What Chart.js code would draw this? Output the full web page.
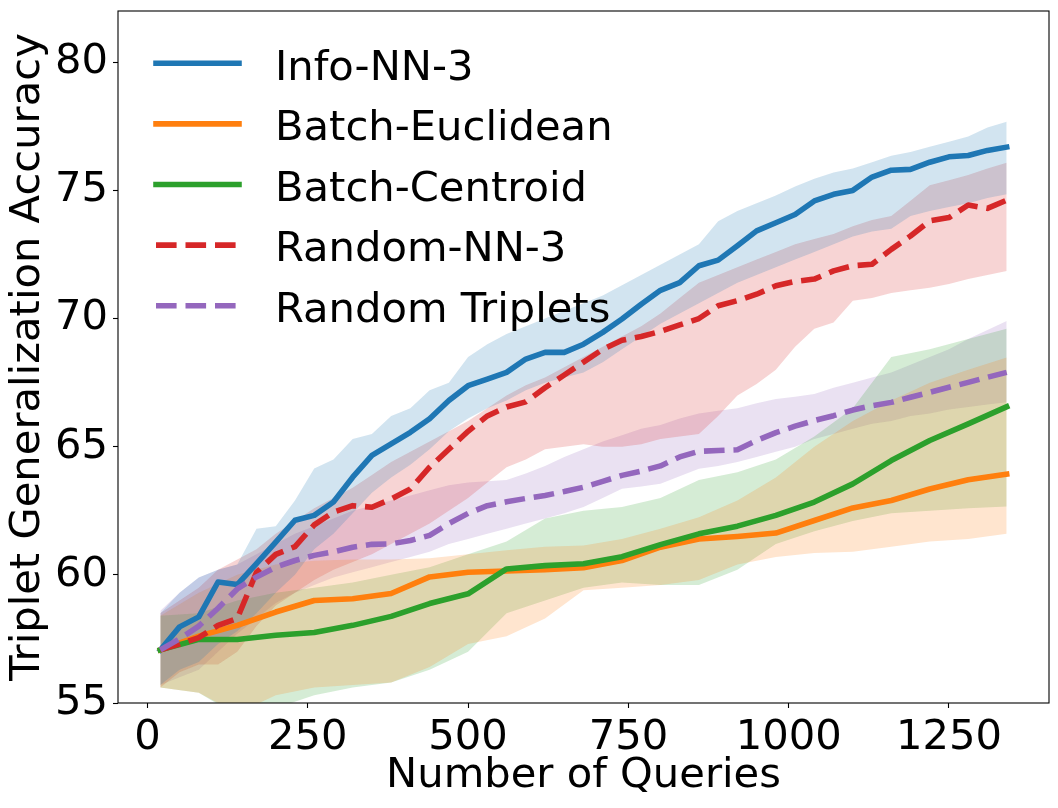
<!DOCTYPE html>
<html><head><meta charset="utf-8">
<script src="https://cdn.jsdelivr.net/npm/chart.js@4.4.1/dist/chart.umd.min.js"></script>
<style>html,body{margin:0;padding:0;background:#fff}canvas{display:block}</style>
</head><body>
<canvas id="c" width="1058" height="808"></canvas>
<script>
// ---- data ----
const xFine = [20,50,80,110,140,170,200,230,260,290,320,350,380,410,440,470,500,530,560,590,620,650,680,710,740,770,800,830,860,890,920,950,980,1010,1040,1070,1100,1130,1160,1190,1220,1250,1280,1310,1340];
const xCoarse = [20,80,140,200,260,320,380,440,500,560,620,680,740,800,860,920,980,1040,1100,1160,1220,1280,1340];

const infoMean  = [57.07,57.97,58.36,59.72,59.62,60.44,61.28,62.13,62.32,62.84,63.81,64.66,65.11,65.56,66.09,66.80,67.38,67.64,67.90,68.42,68.68,68.68,69.00,69.46,69.98,70.56,71.10,71.40,72.06,72.28,72.84,73.42,73.74,74.06,74.59,74.85,75.00,75.52,75.79,75.82,76.10,76.31,76.36,76.56,76.69];
const infoUpper = [58.5,59.3,59.9,60.2,60.4,61.8,61.9,62.9,64.15,64.5,65.3,65.5,66.2,66.5,67.2,67.5,68.5,69.0,69.4,69.7,70.0,70.3,70.6,70.9,71.3,71.7,72.1,72.5,72.9,73.8,74.2,74.5,74.8,75.15,75.45,75.7,75.85,76.1,76.35,76.5,76.7,76.9,77.1,77.45,77.68];
const infoLower = [55.7,56.3,56.6,57.3,57.8,58.5,59.3,60.0,61.0,61.6,62.4,63.2,63.8,64.3,64.9,65.6,66.1,66.5,66.8,67.2,67.5,67.7,67.9,68.3,68.8,69.3,69.8,70.2,70.6,71.0,71.4,71.7,72.0,72.3,72.6,72.9,73.2,73.4,73.5,74.0,74.2,74.35,74.5,74.7,74.85];

const eucMean  = [57.07,57.61,58.03,58.55,59.0,59.07,59.27,59.92,60.1,60.15,60.2,60.28,60.56,61.08,61.4,61.5,61.63,62.12,62.61,62.9,63.35,63.71,63.93];
const eucUpper = [58.4,59.3,60.0,60.4,60.55,60.6,60.6,60.65,60.8,60.96,61.1,61.15,61.4,61.8,62.25,62.9,63.8,65.0,66.0,66.8,67.5,68.0,68.48];
const eucLower = [55.6,55.4,54.6,55.3,55.6,55.7,55.8,56.4,57.3,57.6,58.3,59.4,59.5,59.6,59.8,60.4,60.7,60.85,60.9,61.1,61.3,61.4,61.6];

const cenMean  = [57.07,57.48,57.48,57.64,57.75,58.03,58.38,58.88,59.26,60.23,60.36,60.43,60.71,61.18,61.6,61.9,62.32,62.84,63.55,64.46,65.24,65.89,66.56];
const cenUpper = [58.4,58.5,59.0,59.3,59.5,59.7,60.0,60.3,60.8,61.3,62.2,62.5,62.65,63.0,63.7,64.0,64.5,65.4,66.5,68.5,68.8,69.2,69.6];
const cenLower = [55.6,55.4,54.5,54.8,55.3,55.6,55.8,56.3,57.0,58.5,59.0,59.5,59.7,59.6,59.6,60.2,61.2,61.7,62.1,62.4,62.5,62.6,62.67];

const rnnMean  = [57.07,57.3,57.55,58.03,58.3,60.1,60.8,61.1,61.95,62.45,62.7,62.64,62.96,63.35,64.2,64.9,65.6,66.2,66.55,66.75,67.3,67.8,68.3,68.8,69.15,69.3,69.5,69.75,70.0,70.5,70.7,70.95,71.28,71.45,71.54,71.86,72.06,72.12,72.7,73.22,73.81,73.94,74.43,74.3,74.62];
const rnnUpper = [58.5,59.0,59.5,60.2,60.6,61.0,61.6,62.1,62.6,63.0,63.4,63.9,64.4,64.8,65.2,65.6,66.0,66.5,67.0,67.4,67.7,68.1,68.5,68.9,69.3,69.7,70.2,70.8,71.4,71.7,72.0,72.3,72.6,72.9,73.1,73.3,73.6,73.85,74.0,74.6,75.2,75.4,75.6,75.85,76.08];
const rnnLower = [55.6,56.2,56.5,56.5,57.0,58.0,58.8,59.3,59.8,60.2,60.5,60.8,61.2,61.6,62.0,62.5,63.0,63.6,64.2,64.5,64.9,65.0,65.1,65.0,65.0,65.1,65.3,65.4,65.5,66.2,67.0,67.45,68.0,68.9,69.6,69.85,70.69,70.8,71.0,71.1,71.2,71.35,71.54,71.7,71.86];

const rtMean  = [57.07,57.5,58.0,58.7,59.45,59.92,60.3,60.56,60.76,60.9,61.08,61.19,61.21,61.34,61.54,62.0,62.4,62.7,62.85,62.98,63.1,63.25,63.42,63.65,63.88,64.05,64.25,64.6,64.82,64.85,64.88,65.24,65.55,65.8,66.02,66.21,66.43,66.6,66.73,66.93,67.12,67.32,67.51,67.71,67.9];
const rtUpper = [58.6,59.3,59.9,60.2,60.4,60.8,61.2,61.6,61.9,62.2,62.5,62.7,62.9,63.1,63.3,63.5,63.6,63.65,63.7,63.95,64.25,64.6,64.9,65.2,65.45,65.7,65.85,66.1,66.3,66.4,66.5,66.7,66.86,66.95,67.06,67.3,67.5,67.7,67.9,68.2,68.5,68.8,69.2,69.55,69.9];
const rtLower = [55.7,56.0,56.3,57.0,57.7,58.3,58.9,59.3,59.6,59.9,60.1,60.3,60.5,60.7,60.9,61.2,61.4,61.6,61.8,62.0,62.2,62.4,62.65,63.0,63.36,63.45,63.55,63.85,64.14,64.25,64.4,64.6,64.8,65.0,65.3,65.5,65.7,65.9,66.0,66.2,66.3,66.45,66.55,66.65,66.73];

const xTickValues = [0,250,500,750,1000,1250];
const yTickValues = [55,60,65,70,75,80];
const legendLabels = ['Info-NN-3','Batch-Euclidean','Batch-Centroid','Random-NN-3','Random Triplets'];

// ---- build ----
const series = [
  {label:legendLabels[0], color:'#1f77b4', rgb:'31,119,180', x:xFine,   mean:infoMean, hi:infoUpper, lo:infoLower, dash:false, z:4},
  {label:legendLabels[1], color:'#ff7f0e', rgb:'255,127,14', x:xCoarse, mean:eucMean,  hi:eucUpper,  lo:eucLower,  dash:false, z:3},
  {label:legendLabels[2], color:'#2ca02c', rgb:'44,160,44',  x:xCoarse, mean:cenMean,  hi:cenUpper,  lo:cenLower,  dash:false, z:2},
  {label:legendLabels[3], color:'#d62728', rgb:'214,39,40',  x:xFine,   mean:rnnMean,  hi:rnnUpper,  lo:rnnLower,  dash:true,  z:1},
  {label:legendLabels[4], color:'#9467bd', rgb:'148,103,189',x:xFine,   mean:rtMean,   hi:rtUpper,   lo:rtLower,   dash:true,  z:0}
];
const LW = 5.56, DASH = [20.6, 8.9];
const pts = (xs, ys) => xs.map((x, i) => ({x: x, y: ys[i]}));
const datasets = [];
series.forEach(s => {
  const up = datasets.length;
  datasets.push({data: pts(s.x, s.hi), borderWidth: 0, borderColor: 'rgba(0,0,0,0)', pointRadius: 0, fill: false, order: 10});
  datasets.push({data: pts(s.x, s.lo), borderWidth: 0, borderColor: 'rgba(0,0,0,0)', pointRadius: 0,
                 fill: {target: up}, backgroundColor: 'rgba(' + s.rgb + ',0.2)', order: 10});
});
series.forEach(s => {
  datasets.push({label: s.label, data: pts(s.x, s.mean), borderColor: s.color, borderWidth: LW,
    borderDash: s.dash ? DASH : [], borderCapStyle: s.dash ? 'butt' : 'square', borderJoinStyle: 'round',
    pointRadius: 0, fill: false, tension: 0, order: s.z});
});

const FONT = {family: 'DejaVu Sans', size: 41.67};

const framePlugin = {
  id: 'frameAndLegend',
  afterDraw(chart) {
    const ctx = chart.ctx, ca = chart.chartArea;
    ctx.save();
    ctx.strokeStyle = '#000'; ctx.lineWidth = 1.1; ctx.setLineDash([]);
    ctx.strokeRect(ca.left, ca.top, ca.right - ca.left, ca.bottom - ca.top);
    // legend
    const x0 = ca.left + 38, x1 = ca.left + 121, tx = ca.left + 157;
    const top = ca.top + 52.3, step = 60.6;
    ctx.font = FONT.size + 'px "DejaVu Sans"';
    ctx.textAlign = 'left'; ctx.textBaseline = 'alphabetic';
    series.forEach((s, i) => {
      const y = top + i * step;
      ctx.beginPath();
      ctx.strokeStyle = s.color; ctx.lineWidth = LW;
      ctx.setLineDash(s.dash ? DASH : []);
      ctx.lineCap = s.dash ? 'butt' : 'square';
      ctx.moveTo(x0, y); ctx.lineTo(x1, y); ctx.stroke();
      ctx.setLineDash([]);
      ctx.fillStyle = '#000';
      ctx.fillText(s.label, tx, y + 16.3);
    });
    ctx.restore();
  }
};

new Chart(document.getElementById('c'), {
  type: 'line',
  data: {datasets: datasets},
  options: {
    responsive: false, animation: false, devicePixelRatio: 1, events: [],
    layout: {padding: {top: 11, right: 9, left: 0, bottom: 0}},
    plugins: {legend: {display: false}, tooltip: {enabled: false}, filler: {drawTime: 'beforeDatasetsDraw'}},
    scales: {
      x: {
        type: 'linear', min: -46, max: 1406,
        afterBuildTicks: sc => { sc.ticks = xTickValues.map(v => ({value: v})); },
        afterFit: sc => { sc.height = 105; sc.paddingLeft = 0; sc.paddingRight = 0; },
        ticks: {font: FONT, color: '#000', padding: 5, maxRotation: 0, autoSkip: false, callback: v => String(v)},
        grid: {drawOnChartArea: false, drawTicks: true, tickLength: 5, tickWidth: 1.1, tickColor: '#000', color: '#000'},
        border: {display: false},
        title: {display: true, text: 'Number of Queries', font: FONT, color: '#000', padding: {top: 0, bottom: 7}}
      },
      y: {
        type: 'linear', min: 55, max: 82,
        afterBuildTicks: sc => { sc.ticks = yTickValues.map(v => ({value: v})); },
        afterFit: sc => { sc.width = 118; sc.paddingTop = 0; sc.paddingBottom = 0; },
        ticks: {font: FONT, color: '#000', padding: 5, autoSkip: false, callback: v => String(v)},
        grid: {drawOnChartArea: false, drawTicks: true, tickLength: 5, tickWidth: 1.1, tickColor: '#000', color: '#000'},
        border: {display: false},
        title: {display: true, text: 'Triplet Generalization Accuracy', font: FONT, color: '#000', padding: {top: 3, bottom: 0}}
      }
    }
  },
  plugins: [framePlugin]
});
</script>
</body></html>
